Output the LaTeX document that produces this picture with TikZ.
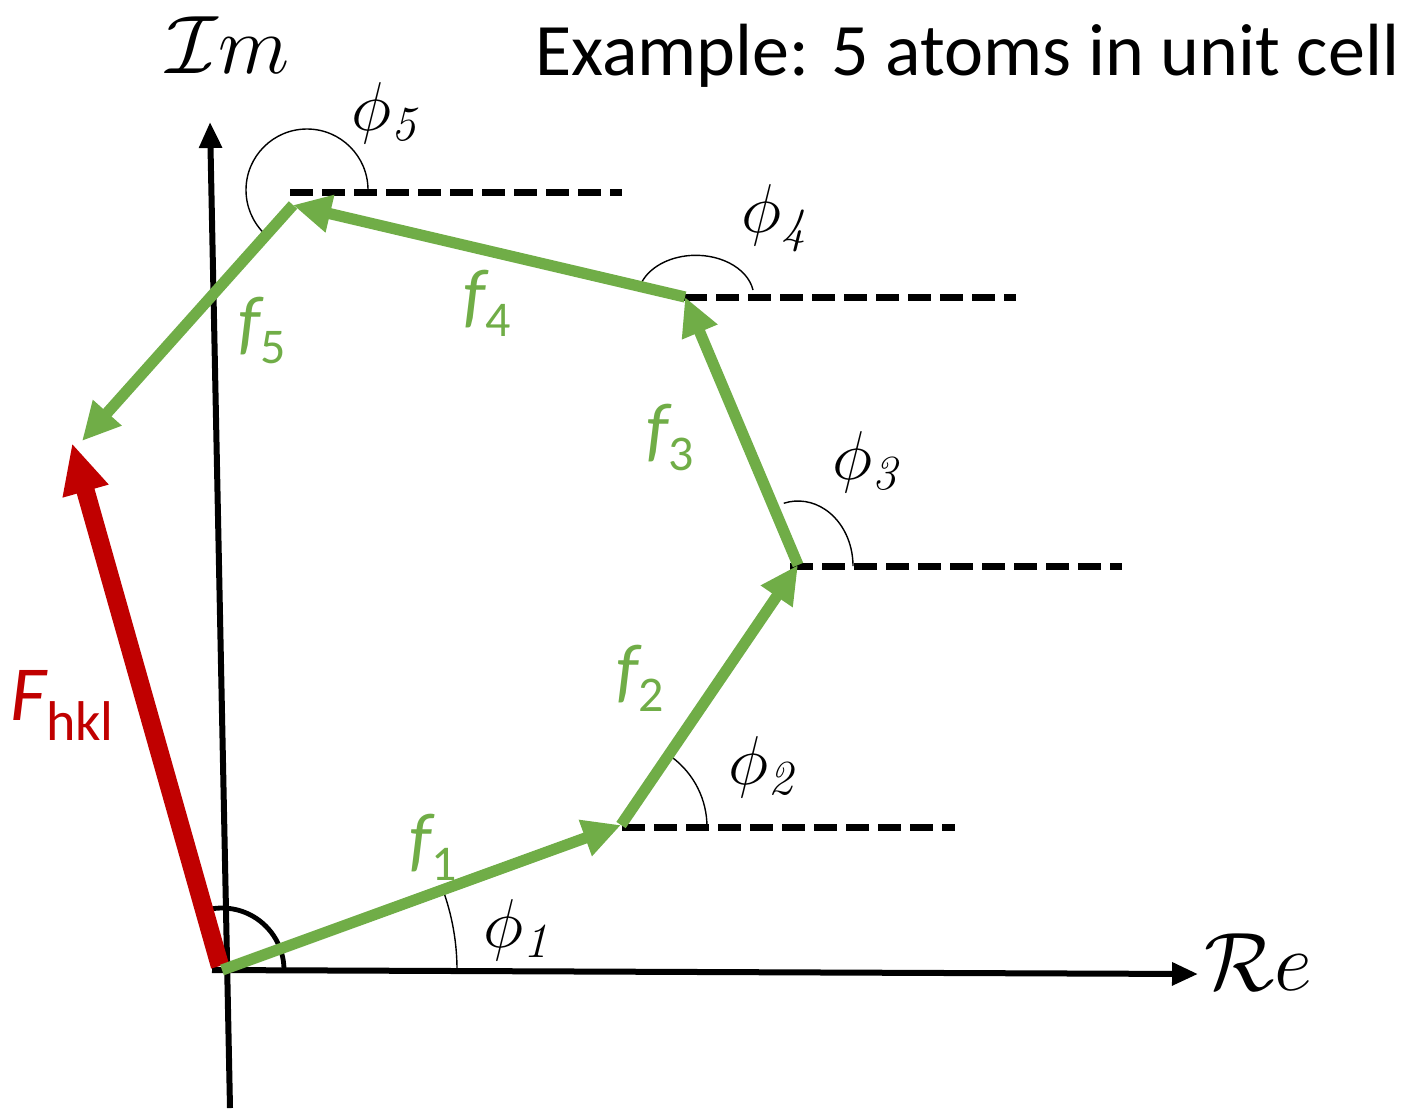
\documentclass[tikz,border=0pt]{standalone}
\usepackage{amsmath}
\usepackage{fontspec}
\newfontfamily\calibri{Carlito}
\usepackage{tikz}
\usetikzlibrary{arrows.meta,calc}

\definecolor{fgreen}{RGB}{112,173,71}
\definecolor{fred}{RGB}{192,0,0}

% f label with upright, lowered index
\newcommand{\flab}[1]{{\itshape f}\raisebox{-4.25pt}{\fontsize{12.5}{12}\selectfont #1}}

\begin{document}
\begin{tikzpicture}[
  x=0.25pt, y=0.25pt,                  % one unit is one pixel of the sketch
  every node/.style={inner sep=0pt},
  axis/.style={-{Triangle[length=6.5pt,width=5.5pt]}, line width=1.5pt},
  vec/.style={-{Triangle[length=9.5pt,width=9pt]}, line width=2.8pt, fgreen},
  sumvec/.style={-{Triangle[length=12.5pt,width=11pt]}, line width=4.6pt, fred},
  refline/.style={line width=1.75pt, dash pattern=on 5.75pt off 2.25pt},
  anglearc/.style={line width=0.35pt},
  philabel/.style={font=\fontsize{17.5}{20}\selectfont},
  flabel/.style={text=fgreen, font=\calibri\fontsize{18}{20}\selectfont}
]
\useasboundingbox (0,0) rectangle (1408,1108);

% axes
\coordinate (imlo) at (230,0);
\coordinate (imhi) at (210,986);
\coordinate (relo) at (212,138);
\coordinate (rehi) at (1198,134);
\draw[axis] (imlo) -- (imhi);
\draw[axis] (relo) -- (rehi);
\node (im) at (228,1063) {\fontsize{19.5}{22}\selectfont $\mathcal{I}m$};
\node (re) at (1258,146) {\fontsize{19.5}{22}\selectfont $\mathcal{R}e$};
\node[anchor=base east] (title) at (1400,1033)
  {\calibri\fontsize{18.5}{20}\selectfont Example: 5 atoms in unit cell};

% vertices of the chain
\coordinate (O) at (222,138);
\coordinate (A) at (621,283);
\coordinate (B) at (798,543);
\coordinate (C) at (685,811);
\coordinate (D) at (293,903);
\coordinate (E) at (82,667);
\coordinate (Fo) at (220,142);
\coordinate (Ft) at (72,665);

% reference lines
\draw[refline] (A) ++(1,-2) -- ++(333,0);
\draw[refline] (B) ++(-8,-1) -- ++(332,0);
\draw[refline] (C) ++(-1,0) -- ++(332,0);
\draw[refline] (D) ++(-3,13) -- ++(332,0);

% angles
\draw[anglearc] (O) ++(235,0) arc[start angle=0, end angle=19, radius=235];
\draw[anglearc] (A) ++(86,-2) arc[start angle=0, end angle=53, radius=87];
\draw[anglearc] (B) ++(55,-1) arc[start angle=0, end angle=105, x radius=55, y radius=65];
\draw[anglearc] (C) ++(68,7) arc[start angle=10, end angle=163, x radius=58, y radius=42];
\draw[anglearc] (D) ++(75,15) arc[start angle=0, end angle=225, radius=61];
\draw[line width=1.2pt] (O) ++(62,0) arc[start angle=0, end angle=105, radius=62];

% structure factor and atomic contributions
\draw[sumvec] (Fo) -- (Ft);
\draw[vec] (O) -- (A);
\draw[vec] (A) -- (B);
\draw[vec] (B) -- (C);
\draw[vec] (C) -- (D);
\draw[vec] (D) -- (E);

% labels
\node[philabel] (p1) at (517,178) {$\phi_{\mathit{1}}$};
\node[philabel] (p2) at (762,341) {$\phi_{\mathit{2}}$};
\node[philabel] (p3) at (866,646) {$\phi_{\mathit{3}}$};
\node[philabel] (p4) at (775,890) {$\phi_{\mathit{4}}$};
\node[philabel] (p5) at (385,995) {$\phi_{\mathit{5}}$};
\node[flabel] (f1) at (433,261) {\flab{1}};
\node[flabel] (f2) at (640,430) {\flab{2}};
\node[flabel] (f3) at (670,671) {\flab{3}};
\node[flabel] (f4) at (487,805) {\flab{4}};
\node[flabel] (f5) at (262,778) {\flab{5}};
\node[text=fred, font=\calibri] (fhkl) at (62,403)
  {{\fontsize{19.5}{22}\selectfont\itshape F}\raisebox{-5pt}{\fontsize{14}{14}\selectfont hkl}};
\end{tikzpicture}
\end{document}
